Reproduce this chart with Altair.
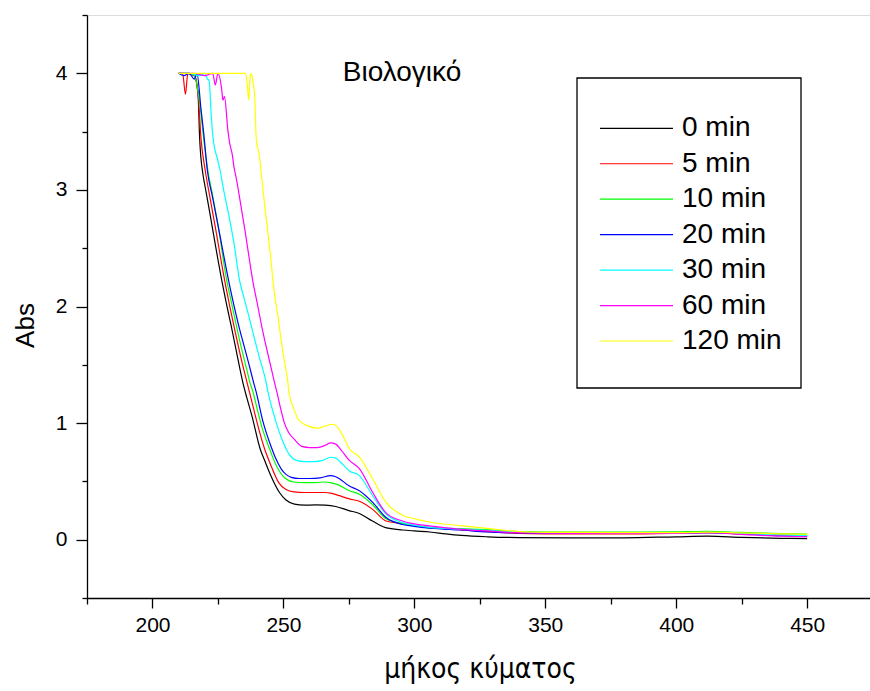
import altair as alt
import pandas as pd

# Series labels and their line colours
SERIES = ["0 min", "5 min", "10 min", "20 min", "30 min", "60 min", "120 min"]
COLORS = ["#000000", "#ff0000", "#00ff00", "#0000ff", "#00ffff", "#ff00ff", "#ffff00"]

# UV spectra: wavelength (nm) and absorbance for each irradiation time
WL_0 = [210, 213, 216, 217.4, 218, 219.3, 220, 222, 224, 226.5, 228, 230, 232, 234.5, 236,
        238, 241.1, 243, 245, 248.5, 251, 254.2, 258, 262, 266, 270, 275, 279, 284, 289,
        295.5, 300, 306, 312, 318, 328, 340, 360, 380, 400, 412, 425, 440, 450]
ABS_0 = [4.0, 4.0, 3.98, 3.82, 3.45, 3.13, 3.04, 2.79, 2.53, 2.22, 2.05, 1.84, 1.62, 1.35, 1.22,
         1.06, 0.78, 0.67, 0.56, 0.405, 0.34, 0.305, 0.296, 0.298, 0.296, 0.285, 0.25, 0.225, 0.16, 0.103,
         0.083, 0.075, 0.066, 0.05, 0.037, 0.025, 0.018, 0.015, 0.016, 0.025, 0.03, 0.02, 0.012, 0.01]

WL_5 = [210, 211.5, 212.6, 213.5, 216, 217.5, 218.5, 220.2, 222, 224, 227.6, 230, 232, 234, 236.1,
        238, 240, 242.8, 245, 248.2, 251, 254, 258, 262, 266, 268, 271, 275.2, 279, 284.1,
        289.2, 295.5, 300, 306, 318, 328, 340, 360, 380, 400, 412, 425, 440, 450]
ABS_5 = [4.0, 4.0, 3.82, 4.0, 3.98, 3.8, 3.45, 3.16, 2.93, 2.68, 2.22, 1.95, 1.74, 1.54, 1.35,
         1.18, 1.0, 0.78, 0.65, 0.49, 0.43, 0.41, 0.405, 0.405, 0.405, 0.40, 0.38, 0.35, 0.33, 0.26,
         0.16, 0.138, 0.12, 0.105, 0.085, 0.07, 0.055, 0.05, 0.05, 0.055, 0.06, 0.05, 0.04, 0.035]

WL_10 = [210, 214, 216, 218, 219.5, 221.2, 223, 225, 228.4, 230, 232, 234, 236, 237.2, 238.4,
         240, 242, 244.7, 247, 249, 251, 254, 258, 262, 266, 268, 271, 275.2, 279, 284.1,
         289.2, 295.5, 300, 306, 318, 328, 340, 360, 380, 400, 412, 425, 440, 450]
ABS_10 = [4.0, 4.0, 3.98, 3.75, 3.45, 3.16, 2.95, 2.7, 2.22, 2.05, 1.84, 1.64, 1.46, 1.35, 1.267,
          1.12, 0.95, 0.78, 0.65, 0.57, 0.52, 0.495, 0.49, 0.49, 0.495, 0.49, 0.47, 0.42, 0.39, 0.30,
          0.18, 0.138, 0.12, 0.10, 0.095, 0.085, 0.07, 0.065, 0.065, 0.068, 0.072, 0.062, 0.052, 0.048]

WL_20 = [210, 212, 214, 216, 217, 218.5, 219.5, 221, 223, 225, 229.1, 231, 233, 235, 237,
         238.6, 239.6, 242, 245.6, 247, 249.2, 251, 253, 256, 260, 264, 268, 270, 275.2, 279,
         284.1, 289.2, 295.5, 300, 306, 318, 328, 340, 360, 380, 400, 412, 425, 440, 450]
ABS_20 = [4.0, 3.98, 4.0, 3.95, 4.0, 3.7, 3.5, 3.16, 2.93, 2.7, 2.22, 2.02, 1.83, 1.66, 1.49,
          1.35, 1.267, 1.03, 0.78, 0.70, 0.606, 0.56, 0.535, 0.525, 0.525, 0.53, 0.55, 0.54, 0.46, 0.42,
          0.32, 0.19, 0.13, 0.115, 0.10, 0.083, 0.066, 0.058, 0.055, 0.055, 0.058, 0.06, 0.05, 0.035, 0.03]

WL_30 = [210, 214, 218, 220, 221, 221.6, 222.5, 223.1, 225, 225.9, 227, 229, 231, 233.3, 235,
         237, 239, 241, 243.4, 244.1, 246, 248, 250, 252.3, 255, 258, 262, 265, 268, 270,
         272, 275.2, 279, 284.1, 289.2, 295.5, 300, 306, 318, 328, 340, 360, 380, 400, 412,
         425, 440, 450]
ABS_30 = [4.0, 4.0, 3.98, 4.0, 3.95, 3.94, 3.62, 3.45, 3.25, 3.16, 3.02, 2.8, 2.56, 2.22, 2.07,
          1.9, 1.72, 1.55, 1.35, 1.267, 1.1, 0.95, 0.83, 0.73, 0.68, 0.67, 0.67, 0.68, 0.707, 0.70,
          0.66, 0.59, 0.55, 0.377, 0.22, 0.147, 0.125, 0.105, 0.09, 0.08, 0.065, 0.06, 0.06, 0.06, 0.062,
          0.052, 0.04, 0.035]

WL_60 = [210, 216, 220, 223, 224, 225, 226.5, 226.9, 227.5, 228.8, 229.5, 230.5, 231.1, 232, 233.3,
         235.2, 237.1, 238.3, 240, 242, 244, 246.6, 247.5, 249, 250.4, 252, 254.2, 257, 260, 263,
         266, 268, 270, 272, 275.2, 279, 284.1, 289.2, 295.5, 300, 305.7, 318, 328, 340, 360,
         380, 400, 412, 425, 440, 450]
ABS_60 = [4.0, 4.0, 3.98, 4.0, 3.9, 4.0, 3.85, 3.77, 3.8, 3.51, 3.4, 3.3, 3.2, 3.1, 2.93,
          2.67, 2.39, 2.22, 2.03, 1.8, 1.6, 1.35, 1.267, 1.12, 1.0, 0.92, 0.86, 0.80, 0.79, 0.79,
          0.81, 0.83, 0.82, 0.77, 0.68, 0.61, 0.405, 0.23, 0.16, 0.135, 0.118, 0.089, 0.075, 0.06, 0.055,
          0.055, 0.055, 0.06, 0.045, 0.03, 0.025]

WL_120 = [210, 220, 230, 235.6, 236.2, 236.8, 237.2, 237.7, 238.2, 239.0, 239.6, 240.9, 242.1, 243.4, 245.3,
          246, 248, 250, 251.7, 252.1, 254, 255.5, 258, 260, 263, 266, 268.5, 270, 272, 275.2,
          279, 284.1, 289.2, 295.5, 300, 305.7, 318.4, 328.5, 340, 360, 380, 400, 412, 425, 440,
          450]
ABS_120 = [4.0, 4.0, 4.0, 4.0, 3.9, 3.77, 3.95, 4.0, 3.95, 3.82, 3.45, 3.28, 3.02, 2.76, 2.39,
           2.22, 1.9, 1.58, 1.35, 1.267, 1.12, 1.04, 0.99, 0.97, 0.957, 0.975, 0.99, 0.98, 0.92, 0.78,
           0.71, 0.52, 0.32, 0.21, 0.18, 0.152, 0.118, 0.095, 0.07, 0.062, 0.06, 0.06, 0.065, 0.058, 0.05,
           0.045]

WAVELENGTHS = [WL_0, WL_5, WL_10, WL_20, WL_30, WL_60, WL_120]
ABSORBANCES = [ABS_0, ABS_5, ABS_10, ABS_20, ABS_30, ABS_60, ABS_120]

X_TICKS = list(range(175, 475, 25))
Y_TICKS = [-0.5, 0, 0.5, 1, 1.5, 2, 2.5, 3, 3.5, 4, 4.5]
Y_MIN, Y_MAX = -0.5, 4.5

rows = []
for name, wl, ab in zip(SERIES, WAVELENGTHS, ABSORBANCES):
    for i, (w, a) in enumerate(zip(wl, ab)):
        rows.append({"series": name, "idx": i, "wl": w, "abs": a})
df = pd.DataFrame(rows)

legend_df = pd.DataFrame({"series": SERIES, "row": list(range(len(SERIES)))})

FONT = "Liberation Sans"
W, H = 783, 583

color_scale = alt.Scale(domain=SERIES, range=COLORS)
y_scale = alt.Scale(domain=[Y_MIN, Y_MAX], nice=False, zero=False)

x_axis = alt.Axis(
    values=X_TICKS,
    labelExpr="datum.value % 50 === 0 ? '' + datum.value : ''",
    tickSize={"condition": {"test": "datum.value % 50 === 0", "value": 10}, "value": 6},
    grid=False, domainColor="black", domainWidth=1.3,
    tickColor="black", tickWidth=1.3,
    labelFont=FONT, labelFontSize=21, labelColor="black", labelPadding=6,
    labelFlush=False, labelOverlap=False,
    title="μήκος κύματος", titleFont="Liberation Sans Narrow, DejaVu Sans Condensed, sans-serif",
    titleFontSize=28, titleFontWeight="normal", titleColor="black",
    titleX=393, titleY=71, titleAlign="center", titleBaseline="middle",
)

y_axis = alt.Axis(
    values=Y_TICKS,
    labelExpr="datum.value % 1 === 0 ? '' + datum.value : ''",
    tickSize={"condition": {"test": "datum.value % 1 === 0", "value": 11}, "value": 5},
    grid=False, domainColor="black", domainWidth=1.3,
    tickColor="black", tickWidth=1.3,
    labelFont=FONT, labelFontSize=21, labelColor="black", labelPadding=9,
    labelOverlap=False, labelFlush=False,
    title="Abs", titleFont=FONT, titleFontSize=26, titleFontWeight="normal", titleColor="black",
    titleX=-62, titleY=310, titleAlign="center", titleBaseline="middle", titleAngle=-90,
)

lines = alt.Chart(df).mark_line(strokeWidth=1.2, interpolate="monotone").encode(
    x=alt.X("wl:Q", scale=alt.Scale(domain=[175, 474], nice=False, zero=False), axis=x_axis),
    y=alt.Y("abs:Q", scale=y_scale, axis=y_axis),
    color=alt.Color("series:N", scale=color_scale, legend=None),
    order=alt.Order("idx:Q"),
)

# legend frame
frame = alt.Chart(pd.DataFrame({"k": [0]})).mark_rect(
    fillOpacity=0, stroke="black", strokeWidth=1.3
).encode(
    x=alt.value(490), x2=alt.value(714), y=alt.value(63), y2=alt.value(373)
)

# legend entries: one row per series at a fixed pitch, placed on the shared y scale
legend_base = alt.Chart(legend_df).transform_calculate(
    ly=f"{Y_MAX} - (113.3 + 35.45 * datum.row) * {(Y_MAX - Y_MIN) / H}"
)
legend_lines = legend_base.mark_rule(strokeWidth=1.2).encode(
    x=alt.value(513), x2=alt.value(586),
    y=alt.Y("ly:Q", scale=y_scale, axis=y_axis),
    color=alt.Color("series:N", scale=color_scale, legend=None),
)
legend_text = legend_base.mark_text(
    font=FONT, fontSize=28, color="black", align="left", baseline="middle"
).encode(
    x=alt.value(595),
    y=alt.Y("ly:Q", scale=y_scale, axis=y_axis),
    text="series:N",
)

note = alt.Chart(pd.DataFrame({"t": ["Βιολογικό"]})).mark_text(
    font=FONT, fontSize=28, color="black", align="center", baseline="middle"
).encode(x=alt.value(315), y=alt.value(58), text="t:N")

chart = alt.layer(lines, frame, legend_lines, legend_text, note).properties(
    width=W, height=H,
    padding={"left": 87, "top": 15, "right": 0, "bottom": 93},
    autosize=alt.AutoSizeParams(type="none"),
).configure_view(stroke=None).configure(background="white")

chart.save("out.html", embed_options={"renderer": "svg", "actions": False})
